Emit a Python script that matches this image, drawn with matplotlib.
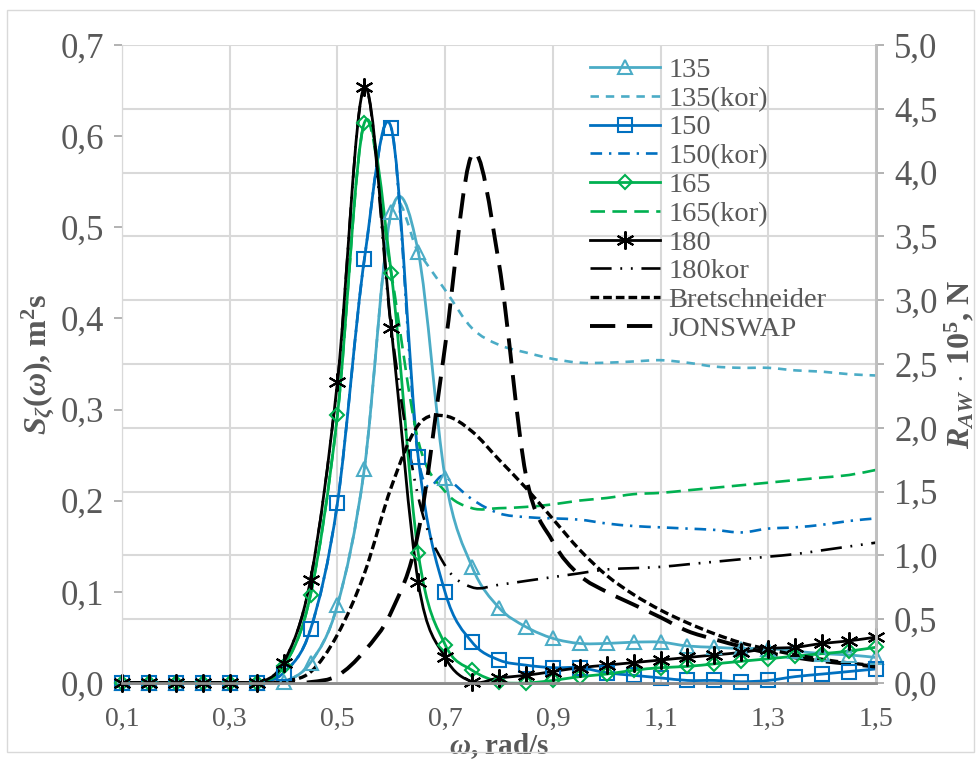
import matplotlib.pyplot as plt
import numpy as np
from matplotlib.path import Path
from matplotlib.patches import PathPatch, Rectangle
from matplotlib.lines import Line2D
from matplotlib.ticker import FuncFormatter

plt.rcParams['font.family'] = ['Liberation Serif', 'DejaVu Serif']
plt.rcParams['mathtext.fontset'] = 'custom'
plt.rcParams['mathtext.rm'] = 'Liberation Serif:bold'
plt.rcParams['mathtext.it'] = 'Liberation Serif:italic:bold'
plt.rcParams['mathtext.bf'] = 'Liberation Serif:bold'

# data: omega, rad/s
omega = [0.10, 0.15, 0.20, 0.25, 0.30, 0.35, 0.40, 0.45, 0.50, 0.55, 0.60, 0.65, 0.70, 0.75, 0.80,
         0.85, 0.90, 0.95, 1.00, 1.05, 1.10, 1.15, 1.20, 1.25, 1.30, 1.35, 1.40, 1.45, 1.50]

# added resistance R_AW * 10^5, N (right axis)
raw_135 = [0, 0, 0, 0, 0, 0, 0.01, 0.16, 0.61, 1.68, 3.69, 3.38, 1.61, 0.91, 0.59,
           0.44, 0.35, 0.31, 0.31, 0.32, 0.32, 0.29, 0.28, 0.27, 0.27, 0.25, 0.23, 0.22, 0.20]
raw_135_kor = [0, 0, 0, 0, 0, 0, 0.01, 0.16, 0.61, 1.68, 3.69, 3.38, 3.08, 2.78, 2.65,
               2.59, 2.54, 2.51, 2.51, 2.52, 2.53, 2.51, 2.48, 2.47, 2.47, 2.45, 2.44, 2.42, 2.41]
raw_150 = [0, 0, 0, 0, 0, 0, 0.08, 0.42, 1.41, 3.32, 4.35, 1.77, 0.71, 0.32, 0.18,
           0.14, 0.12, 0.12, 0.08, 0.06, 0.04, 0.02, 0.02, 0.01, 0.02, 0.05, 0.07, 0.09, 0.11]
raw_150_kor = [0, 0, 0, 0, 0, 0, 0.08, 0.42, 1.41, 3.32, 4.35, 1.77, 1.62, 1.44, 1.33,
               1.30, 1.29, 1.28, 1.25, 1.23, 1.22, 1.21, 1.20, 1.18, 1.21, 1.22, 1.24, 1.27, 1.29]
raw_165 = [0, 0, 0, 0, 0, 0, 0.13, 0.69, 2.10, 4.39, 3.21, 1.02, 0.30, 0.10, 0.01,
           0.00, 0.02, 0.05, 0.07, 0.10, 0.12, 0.13, 0.15, 0.17, 0.19, 0.21, 0.23, 0.25, 0.28]
raw_165_kor = [0, 0, 0, 0, 0, 0, 0.13, 0.69, 2.10, 4.39, 3.21, 1.90, 1.50, 1.37, 1.37,
               1.38, 1.40, 1.43, 1.45, 1.48, 1.49, 1.51, 1.53, 1.55, 1.57, 1.59, 1.61, 1.63, 1.67]
raw_180 = [0, 0, 0, 0, 0, 0, 0.16, 0.81, 2.36, 4.67, 2.78, 0.79, 0.20, 0.01, 0.04,
           0.06, 0.09, 0.12, 0.14, 0.16, 0.18, 0.20, 0.22, 0.24, 0.27, 0.28, 0.31, 0.33, 0.36]
raw_180_kor = [0, 0, 0, 0, 0, 0, 0.16, 0.81, 2.36, 4.67, 2.78, 1.46, 0.92, 0.75, 0.77,
               0.80, 0.83, 0.86, 0.89, 0.90, 0.91, 0.93, 0.95, 0.97, 0.99, 1.01, 1.04, 1.07, 1.10]

# wave spectra S(omega), m2s (left axis)
bretschneider = [0, 0, 0, 0, 0, 0, 0.002, 0.012, 0.053, 0.120, 0.215, 0.283, 0.293, 0.276, 0.245,
                 0.214, 0.180, 0.146, 0.118, 0.097, 0.080, 0.066, 0.054, 0.044, 0.037, 0.031, 0.026, 0.022, 0.019]
jonswap = [0, 0, 0, 0, 0, 0, 0, 0.001, 0.008, 0.035, 0.078, 0.165, 0.370, 0.580, 0.460,
           0.228, 0.155, 0.118, 0.100, 0.086, 0.072, 0.057, 0.048, 0.040, 0.033, 0.028, 0.024, 0.021, 0.018]

C135 = '#4bacc6'
C150 = '#0070c0'
C165 = '#00b050'
GREY = '#595959'


def smooth_line(ax, x, y, transform, **kw):
    # Excel-like smoothed line: Catmull-Rom through the data points as cubic Bezier
    pts = np.column_stack([np.asarray(x, float), np.asarray(y, float)])
    n = len(pts)
    verts = [pts[0]]
    codes = [Path.MOVETO]
    for i in range(n - 1):
        p0 = pts[max(i - 1, 0)]
        p1 = pts[i]
        p2 = pts[i + 1]
        p3 = pts[min(i + 2, n - 1)]
        verts += [p1 + (p2 - p0) / 6, p2 - (p3 - p1) / 6, p2]
        codes += [Path.CURVE4] * 3
    ax.add_patch(PathPatch(Path(verts, codes), fill=False, transform=transform,
                           capstyle='butt', joinstyle='round', **kw))


fig = plt.figure(figsize=(9.79, 7.61), dpi=100)
ax = fig.add_axes([122 / 979, 1 - 683 / 761, (876 - 122) / 979, (683 - 45) / 761])
ax2 = ax.twinx()

ax.set_xlim(0.1, 1.5)
ax.set_ylim(0, 0.7)
ax2.set_ylim(0, 5.0)

comma = FuncFormatter(lambda v, p: f'{v:.1f}'.replace('.', ','))
ax.set_xticks(np.arange(0.1, 1.51, 0.2))
ax.set_yticks(np.arange(0, 0.71, 0.1))
ax2.set_yticks(np.arange(0, 5.01, 0.5))
for a in (ax.xaxis, ax.yaxis, ax2.yaxis):
    a.set_major_formatter(comma)

# grid lives on ax2 so it is under every curve
ax2.xaxis.set_visible(True)
ax2.tick_params(axis='x', bottom=False, labelbottom=False, top=False, labeltop=False)
ax2.grid(True, color='#d9d9d9', lw=1.5)
ax2.set_axisbelow(True)

ax.tick_params(axis='x', length=0, pad=17, labelsize=20, colors=GREY)
ax.tick_params(axis='y', length=6, width=1.2, color='#a6a6a6', pad=7, labelsize=25, labelcolor=GREY)
ax2.tick_params(axis='y', length=6, width=1.2, color='#a6a6a6', pad=7, labelsize=25, labelcolor=GREY)

for a in (ax, ax2):
    a.spines['top'].set_visible(False)
    a.spines['left'].set_color('#d9d9d9')
    a.spines['bottom'].set_color('#8c8c8c')
    a.spines['bottom'].set_linewidth(2)
    a.spines['right'].set_color('#bfbfbf')
    a.spines['right'].set_linewidth(2)

# series: (values, transform axes, colour, lw, dashes, marker, ms, label)
series = [
    (raw_135, ax2, C135, 2.0, None, '^', 10, '135'),
    (raw_135_kor, ax2, C135, 1.9, (3.2, 2.6), None, 0, '135(kor)'),
    (raw_150, ax2, C150, 2.0, None, 's', 10, '150'),
    (raw_150_kor, ax2, C150, 1.9, (4.4, 2.6, 0.9, 2.6), None, 0, '150(kor)'),
    (raw_165, ax2, C165, 2.0, None, 'D', 7.2, '165'),
    (raw_165_kor, ax2, C165, 1.9, (5.5, 2.8), None, 0, '165(kor)'),
    (raw_180, ax2, 'black', 2.0, None, (6, 2, 0), 13, '180'),
    (raw_180_kor, ax2, 'black', 1.9, (8, 3.3, 0.7, 3.3, 0.7, 3.3), None, 0, '180kor'),
    (bretschneider, ax, 'black', 2.4, (2.6, 1.2), None, 0, 'Bretschneider'),
    (jonswap, ax, 'black', 2.8, (6.5, 3.0), None, 0, 'JONSWAP'),
]

handles = []
for vals, tax, col, lw, dashes, mk, ms, lab in series:
    ls = '-' if dashes is None else (0, dashes)
    smooth_line(ax2, omega, vals, tax.transData, edgecolor=col, lw=lw, linestyle=ls)
    if mk is not None:
        ax2.plot(omega, vals, linestyle='none', marker=mk, ms=ms, mfc='none', mec=col,
                 mew=1.5, transform=tax.transData, clip_on=False)
    handles.append(Line2D([], [], color=col, lw=lw, linestyle=ls, marker=mk, ms=ms,
                          mfc='none', mec=col, mew=1.5))

ax.set_xlim(0.1, 1.5)
ax.set_ylim(0, 0.7)
ax2.set_ylim(0, 5.0)

leg = ax2.legend(handles, [s[-1] for s in series], loc='upper left',
                 bbox_to_anchor=(590 / 979, 1 - 57 / 761), bbox_transform=fig.transFigure,
                 frameon=False, fontsize=20.5, handlelength=2.45, handletextpad=0.3,
                 labelspacing=0.1, borderpad=0, borderaxespad=0)
for t in leg.get_texts():
    t.set_color(GREY)

ax.set_xlabel(r'$\omega$, rad/s', fontsize=21, fontweight='bold', color=GREY)
ax.xaxis.set_label_coords(0.5, -0.075)
ax.set_ylabel(r'$S_{\zeta}(\omega)$, m$^2$s', fontsize=23, fontweight='bold', color=GREY, labelpad=2)
ax2.set_ylabel(r'$R_{AW}\,\cdot\,10^5$, N', fontsize=23, fontweight='bold', color=GREY, labelpad=4)

fig.patches.append(Rectangle((7 / 979, 1 - 752 / 761), 967 / 979, 742 / 761,
                             transform=fig.transFigure, fill=False, ec='#d9d9d9', lw=1))

fig.savefig('out.png', dpi=100)
